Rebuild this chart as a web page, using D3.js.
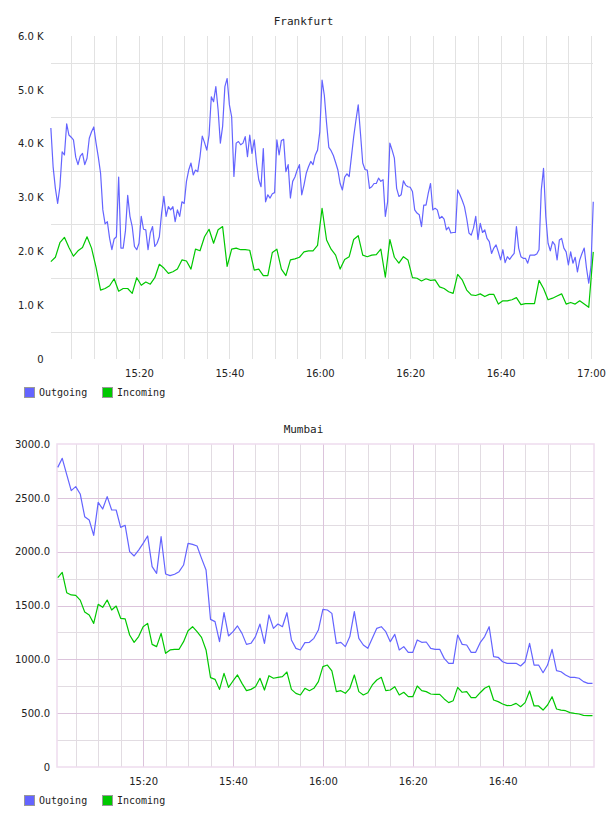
<!DOCTYPE html>
<html>
<head>
<meta charset="utf-8">
<script src="https://cdn.jsdelivr.net/npm/d3@7"></script>
<style>
  body { margin: 0; background: #fff; }
  svg { display: block; }
</style>
</head>
<body>
<div id="chart"></div>
<script>
var seriesNames = ["Outgoing", "Incoming"];
var seriesColors = ["#6464ff", "#00c800"];

// Frankfurt: outgoing sampled every 30s, incoming every minute, from 15:00:30
var frankfurtOutgoing = [
  4290, 3570, 3170, 2890, 3200, 3850, 3790, 4370, 4160, 4120,
  4070, 3750, 3610, 3770, 3820, 3610, 3730, 4100, 4220, 4310,
  4010, 3750, 3450, 2770, 2510, 2550, 2240, 2030, 2230, 2270,
  3380, 2060, 2060, 2380, 3040, 2650, 2460, 2090, 2030, 2150,
  2650, 2410, 2400, 2030, 2340, 2460, 2090, 2150, 2270, 2710,
  3020, 2650, 2830, 2770, 2830, 2550, 2770, 2650, 2920, 2890,
  3300, 3510, 3640, 3420, 3510, 3480, 3760, 4140, 4020, 3880,
  4160, 4870, 4780, 5060, 4630, 4010, 4320, 5060, 5210, 4720,
  4500, 3390, 4010, 4040, 3980, 4010, 4130, 3760, 4160, 3820,
  4070, 3640, 3330, 3200, 3910, 2920, 3050, 2990, 3070, 3090,
  4070, 3790, 4060, 4080, 3480, 3610, 2990, 3300, 3380, 3510,
  3610, 3050, 3230, 3450, 3570, 3670, 3610, 3790, 3880, 4220,
  5180, 4900, 4380, 3930, 3870, 3780, 3650, 3510, 3260, 3140,
  3380, 3440, 3390, 3760, 4130, 4440, 4720, 4190, 3640, 3520,
  3510, 3170, 3200, 3260, 3260, 3360, 3300, 3330, 2650, 2920,
  4010, 3880, 3730, 3170, 3020, 3050, 3310, 3230, 3200, 3190,
  3110, 2770, 2710, 2680, 2460, 2860, 2860, 3080, 3260, 2770,
  2800, 2770, 2610, 2650, 2600, 2400, 2450, 2340, 2350, 2350,
  3140, 3050, 2950, 2830, 2610, 2340, 2300, 2430, 2650, 2220,
  2520, 2350, 2400, 2240, 2180, 1960, 2060, 2120, 1990, 1840,
  2030, 1790, 1900, 1850, 1910, 1960, 2460, 2060, 1900, 1870,
  1870, 1780, 1930, 1930, 1930, 1950, 2030, 3140, 3540, 2650,
  2150, 2010, 2180, 2120, 1840, 2210, 2240, 2060, 1990, 1750,
  1990, 1780, 1890, 1620, 1840, 1960, 2060, 1690, 1410, 1720,
  2920
];
var frankfurtIncoming = [
  1810, 1890, 2160, 2260, 2070, 1910, 2010, 2070, 2270, 2060,
  1700, 1280, 1310, 1360, 1490, 1260, 1310, 1310, 1220, 1510,
  1370, 1430, 1390, 1510, 1760, 1690, 1590, 1620, 1670, 1840,
  1820, 1670, 2040, 2010, 2270, 2410, 2150, 2400, 2460, 1720,
  2040, 2060, 2030, 2030, 2020, 1650, 1670, 1550, 1550, 1980,
  2040, 1670, 1550, 1840, 1860, 1890, 1990, 2010, 2010, 2110,
  2800, 2210, 2040, 1930, 1670, 1850, 1900, 2220, 2290, 1930,
  1900, 1930, 1940, 2040, 1520, 2220, 1890, 1780, 1900, 1840,
  1510, 1500, 1450, 1490, 1460, 1470, 1340, 1310, 1250, 1220,
  1570, 1470, 1280, 1190, 1180, 1210, 1160, 1200, 1200, 1020,
  1080, 1080, 1100, 1140, 1010, 1030, 1030, 1030, 1460, 1310,
  1100, 1130, 1170, 1210, 1020, 1050, 1020, 1080, 1020, 960,
  1990
];

// Mumbai: one sample a minute from 15:01
var mumbaiOutgoing = [
  2783, 2867, 2716, 2567, 2604, 2536, 2325, 2294, 2152, 2458,
  2396, 2511, 2387, 2387, 2226, 2245, 2000, 1960, 2015, 2077,
  2146, 1861, 1799, 2139, 1793, 1777, 1790, 1814, 1876, 2077,
  2068, 2053, 1938, 1830, 1371, 1350, 1164, 1433, 1217, 1257,
  1310, 1241, 1139, 1149, 1211, 1328, 1149, 1412, 1288, 1328,
  1303, 1433, 1180, 1102, 1087, 1155, 1158, 1195, 1272, 1464,
  1458, 1427, 1149, 1158, 1118, 1211, 1443, 1195, 1133, 1102,
  1195, 1288, 1303, 1257, 1164, 1232, 1087, 1118, 1065, 1065,
  1180, 1158, 1161, 1102, 1093, 1093, 1009, 963, 963, 1226,
  1139, 1133, 1065, 1065, 1155, 1211, 1303, 1025, 1019, 978,
  963, 963, 963, 938, 978, 1149, 947, 947, 876, 947,
  1093, 895, 885, 855, 833, 833, 824, 793, 777, 777
];
var mumbaiIncoming = [
  1759, 1808, 1619, 1598, 1594, 1550, 1440, 1412, 1334, 1511,
  1483, 1551, 1458, 1495, 1381, 1375, 1226, 1158, 1211, 1303,
  1334, 1139, 1118, 1241, 1056, 1087, 1093, 1093, 1164, 1266,
  1303, 1257, 1204, 1087, 830, 814, 721, 870, 740, 799,
  855, 777, 709, 721, 746, 824, 715, 848, 824, 833,
  839, 882, 721, 684, 669, 731, 709, 731, 793, 932,
  947, 892, 700, 709, 684, 731, 855, 700, 669, 690,
  762, 808, 833, 709, 715, 746, 669, 694, 653, 653,
  752, 709, 700, 678, 675, 675, 632, 598, 616, 740,
  694, 700, 644, 644, 690, 731, 752, 622, 607, 585,
  570, 573, 591, 560, 598, 706, 567, 567, 529, 576,
  653, 539, 529, 523, 505, 498, 492, 480, 477, 477
];

var frankfurtYTicks = [0, 1000, 2000, 3000, 4000, 5000, 6000];
var frankfurtYLabels = ["0", "1.0 K", "2.0 K", "3.0 K", "4.0 K", "5.0 K", "6.0 K"];
var frankfurtXTicks = ["15:20", "15:40", "16:00", "16:20", "16:40", "17:00"];

var mumbaiYTicks = [0, 500, 1000, 1500, 2000, 2500, 3000];
var mumbaiYLabels = ["0", "500.0", "1000.0", "1500.0", "2000.0", "2500.0", "3000.0"];
var mumbaiXTicks = ["15:20", "15:40", "16:00", "16:20", "16:40"];

var parseTime = d3.timeParse("%H:%M:%S"),
    parseTick = d3.timeParse("%H:%M");

var svg = d3.select("#chart")
            .append("svg")
            .attr("width", 608)
            .attr("height", 816);

function times(start, stepSec, n) {
  var t0 = parseTime(start);
  return d3.range(n).map(function (i) { return d3.timeSecond.offset(t0, i * stepSec); });
}

function drawPanel(p) {
  var x = d3.scaleTime().domain([parseTime(p.xStart), parseTime(p.xEnd)]).range([p.left, p.right]);
  var y = d3.scaleLinear().domain([p.yTicks[0], p.yTicks[p.yTicks.length - 1]]).range([p.bottom, p.top]);
  var g = svg.append("g");

  // grid, minor first
  var minutes5 = d3.timeMinute.every(5).range(x.domain()[0], d3.timeSecond.offset(x.domain()[1], 1))
                   .filter(function (d) { return x(d) > p.left + 3; });
  var minorX = minutes5.filter(function (d) { return !p.majorColor || d.getMinutes() % 20 != 0; });
  var yMinor = d3.range(p.yStep / 2, p.yTicks[p.yTicks.length - 1], p.yStep);

  g.append("g").selectAll("line").data(minorX).join("line")
   .attr("x1", function (d) { return Math.round(x(d)) + 0.5; })
   .attr("x2", function (d) { return Math.round(x(d)) + 0.5; })
   .attr("y1", p.top).attr("y2", p.bottom)
   .attr("stroke", p.minorColor);

  g.append("g").selectAll("line").data(yMinor).join("line")
   .attr("x1", p.gridLeft).attr("x2", p.gridRight)
   .attr("y1", function (d) { return Math.round(y(d)) + 0.5; })
   .attr("y2", function (d) { return Math.round(y(d)) + 0.5; })
   .attr("stroke", p.minorColor);

  if (p.majorColor) {
    var majorX = minutes5.filter(function (d) { return d.getMinutes() % 20 == 0 && x(d) < p.right - 5; });
    g.append("g").selectAll("line").data(majorX).join("line")
     .attr("x1", function (d) { return Math.round(x(d)) + 0.5; })
     .attr("x2", function (d) { return Math.round(x(d)) + 0.5; })
     .attr("y1", p.top).attr("y2", p.bottom)
     .attr("stroke", p.majorColor);
    g.append("g").selectAll("line").data(p.yTicks.slice(1, -1)).join("line")
     .attr("x1", p.left).attr("x2", p.right)
     .attr("y1", function (d) { return Math.round(y(d)) + 0.5; })
     .attr("y2", function (d) { return Math.round(y(d)) + 0.5; })
     .attr("stroke", p.majorColor);
    g.append("rect")
     .attr("x", p.left).attr("y", p.top)
     .attr("width", p.right - p.left).attr("height", p.bottom - p.top)
     .attr("fill", "none")
     .attr("stroke", p.borderColor)
     .attr("stroke-width", 1.5);
  }

  // series
  p.series.forEach(function (s, i) {
    var ts = times(p.dataStart, s.step, s.values.length);
    var line = d3.line()
                 .x(function (d, j) { return x(ts[j]); })
                 .y(function (d) { return y(d); });
    g.append("path")
     .datum(s.values)
     .attr("fill", "none")
     .attr("stroke", seriesColors[i])
     .attr("stroke-width", 1.2)
     .attr("stroke-linejoin", "round")
     .attr("d", line);
  });

  // axes
  var yAxis = g.append("g")
               .attr("transform", "translate(" + p.left + ",0)")
               .call(d3.axisLeft(y).tickValues(p.yTicks).tickSize(0).tickPadding(p.yPad)
                       .tickFormat(function (d, i) { return p.yLabels[i]; }));
  var xAxis = g.append("g")
               .attr("transform", "translate(0," + p.bottom + ")")
               .call(d3.axisBottom(x).tickValues(p.xTicks.map(parseTick)).tickSize(0).tickPadding(10.5)
                       .tickFormat(d3.timeFormat("%H:%M")));
  [yAxis, xAxis].forEach(function (a) {
    a.select(".domain").remove();
    a.selectAll("text")
     .attr("fill", "#222")
     .style("font-family", "'DejaVu Sans', sans-serif")
     .style("font-size", "10px");
  });

  // title
  g.append("text")
   .attr("x", 303.5)
   .attr("y", p.titleY)
   .attr("text-anchor", "middle")
   .attr("fill", "#222")
   .style("font-family", "'DejaVu Sans Mono', monospace")
   .style("font-size", "11px")
   .text(p.title);

  // legend
  seriesNames.forEach(function (name, i) {
    var lx = 24.5 + i * 78;
    g.append("rect")
     .attr("x", lx).attr("y", p.legendY)
     .attr("width", 10).attr("height", 10)
     .attr("fill", seriesColors[i])
     .attr("stroke", "#999");
    g.append("text")
     .attr("x", lx + 14.5)
     .attr("y", p.legendY + 8.5)
     .attr("fill", "#222")
     .style("font-family", "'DejaVu Sans Mono', monospace")
     .style("font-size", "10px")
     .text(name);
  });
}

drawPanel({
  title: "Frankfurt", titleY: 25,
  left: 48.6, right: 591, top: 36, bottom: 359,
  gridLeft: 51, gridRight: 593,
  xStart: "15:00:00", xEnd: "17:00:00", dataStart: "15:00:30",
  yTicks: frankfurtYTicks, yLabels: frankfurtYLabels, yStep: 1000, yPad: 5,
  xTicks: frankfurtXTicks,
  minorColor: "#e2e2e2", majorColor: null,
  series: [{ values: frankfurtOutgoing, step: 30 }, { values: frankfurtIncoming, step: 60 }],
  legendY: 387.5
});

drawPanel({
  title: "Mumbai", titleY: 433,
  left: 57, right: 594, top: 444, bottom: 767,
  gridLeft: 57, gridRight: 594,
  xStart: "15:00:50", xEnd: "17:00:20", dataStart: "15:01:00",
  yTicks: mumbaiYTicks, yLabels: mumbaiYLabels, yStep: 500, yPad: 7,
  xTicks: mumbaiXTicks,
  minorColor: "#e2dce2", majorColor: "#dcc4dc", borderColor: "#eedcee",
  series: [{ values: mumbaiOutgoing, step: 60 }, { values: mumbaiIncoming, step: 60 }],
  legendY: 795.5
});
</script>
</body>
</html>
